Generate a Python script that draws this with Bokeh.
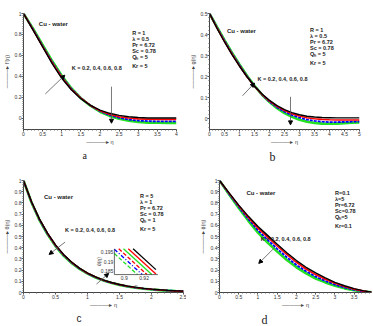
from bokeh.plotting import figure
from bokeh.layouts import row, column
from bokeh.models import Range1d, FixedTicker, Arrow, NormalHead, Label, Title
from bokeh.embed import file_html
from bokeh.resources import INLINE
from bokeh.core.properties import value

# ---------------------------------------------------------------- data
K_values = [0.2, 0.4, 0.6, 0.8]
curve_colors = ["black", "red", "blue", "#22e022"]

# (a) velocity f'(eta)
eta_a = [0, 0.25, 0.5, 0.75, 1.0, 1.25, 1.5, 1.75, 2.0, 2.25, 2.5, 2.75, 3.0, 3.25, 3.5, 3.75, 4.0]
fp_k02 = [1, 0.84, 0.68, 0.52, 0.38, 0.27, 0.185, 0.12, 0.075, 0.045, 0.025, 0.012, 0.005, 0.0, 0.0, 0.0, 0.0]
fp_k04 = [1, 0.845, 0.685, 0.53, 0.39, 0.275, 0.19, 0.12, 0.07, 0.035, 0.012, 0.0, -0.008, -0.012, -0.013, -0.013, -0.013]
fp_k06 = [1, 0.85, 0.69, 0.535, 0.395, 0.28, 0.19, 0.12, 0.065, 0.028, 0.002, -0.015, -0.025, -0.03, -0.032, -0.032, -0.032]
fp_k08 = [1, 0.855, 0.70, 0.545, 0.405, 0.285, 0.19, 0.118, 0.06, 0.02, -0.008, -0.027, -0.038, -0.044, -0.046, -0.047, -0.047]

# (b) velocity g(eta)
eta_b = [0, 0.25, 0.5, 0.75, 1.0, 1.25, 1.5, 1.75, 2.0, 2.25, 2.5, 2.75, 3.0, 3.25, 3.5, 3.75, 4.0, 4.25, 4.5, 4.75, 5.0]
g_k02 = [0.5, 0.43, 0.365, 0.305, 0.25, 0.2, 0.155, 0.118, 0.088, 0.063, 0.044, 0.03, 0.02, 0.013, 0.009, 0.007, 0.006, 0.005, 0.005, 0.005, 0.005]
g_k04 = [0.5, 0.432, 0.368, 0.308, 0.252, 0.2, 0.155, 0.116, 0.085, 0.06, 0.04, 0.025, 0.014, 0.006, 0.001, -0.002, -0.004, -0.005, -0.005, -0.005, -0.005]
g_k06 = [0.5, 0.434, 0.371, 0.311, 0.255, 0.202, 0.156, 0.115, 0.082, 0.055, 0.034, 0.018, 0.006, -0.003, -0.009, -0.013, -0.015, -0.015, -0.014, -0.013, -0.012]
g_k08 = [0.5, 0.436, 0.374, 0.314, 0.258, 0.205, 0.157, 0.115, 0.08, 0.051, 0.028, 0.01, -0.004, -0.013, -0.019, -0.022, -0.023, -0.022, -0.02, -0.018, -0.016]

# (c) temperature theta(eta)
eta_c = [0, 0.125, 0.25, 0.375, 0.5, 0.625, 0.75, 0.875, 1.0, 1.125, 1.25, 1.375, 1.5, 1.625, 1.75, 1.875, 2.0, 2.125, 2.25, 2.375, 2.5]
th_k02 = [1, 0.81, 0.655, 0.53, 0.425, 0.34, 0.272, 0.218, 0.174, 0.139, 0.111, 0.089, 0.071, 0.057, 0.046, 0.037, 0.030, 0.024, 0.019, 0.015, 0.012]
th_k04 = [1, 0.808, 0.652, 0.527, 0.422, 0.337, 0.27, 0.216, 0.172, 0.138, 0.11, 0.088, 0.07, 0.056, 0.045, 0.036, 0.029, 0.023, 0.018, 0.014, 0.011]
th_k06 = [1, 0.806, 0.649, 0.523, 0.418, 0.334, 0.267, 0.213, 0.17, 0.136, 0.108, 0.086, 0.069, 0.055, 0.044, 0.035, 0.028, 0.022, 0.018, 0.014, 0.011]
th_k08 = [1, 0.804, 0.646, 0.519, 0.414, 0.33, 0.264, 0.21, 0.168, 0.134, 0.107, 0.085, 0.068, 0.054, 0.043, 0.034, 0.027, 0.021, 0.017, 0.013, 0.01]

# (c, inset) close-up of theta near eta = 0.9
inset_eta = [0.89, 0.932]
inset_theta = [[0.2050, 0.1859], [0.2028, 0.1837], [0.2006, 0.1815],
               [0.1984, 0.1793], [0.1962, 0.1771], [0.1940, 0.1749]]
inset_colors = ["black", "red", "#22e022", "red", "blue", "#22e022"]
inset_dashes = ["solid", "solid", "solid", "4 2", "4 2 1 2", "4 2"]
inset_xticks = [0.9, 0.92]
inset_yticks = [0.185, 0.19, 0.195]

# (d) concentration phi(eta)
eta_d = [0, 0.25, 0.5, 0.75, 1.0, 1.25, 1.5, 1.75, 2.0, 2.25, 2.5, 2.75, 3.0, 3.25, 3.5, 3.75, 4.0]
ph_k02 = [1, 0.89, 0.78, 0.68, 0.59, 0.51, 0.43, 0.355, 0.285, 0.225, 0.175, 0.13, 0.09, 0.06, 0.035, 0.015, 0.0]
ph_k04 = [1, 0.885, 0.775, 0.67, 0.575, 0.495, 0.415, 0.34, 0.27, 0.21, 0.16, 0.118, 0.082, 0.053, 0.03, 0.012, 0.0]
ph_k06 = [1, 0.88, 0.765, 0.655, 0.555, 0.47, 0.39, 0.315, 0.245, 0.19, 0.142, 0.103, 0.07, 0.044, 0.024, 0.01, 0.0]
ph_k08 = [1, 0.875, 0.755, 0.64, 0.535, 0.445, 0.365, 0.29, 0.225, 0.17, 0.125, 0.09, 0.06, 0.037, 0.02, 0.008, 0.0]

params_a = ["R = 1", "\u03bb = 0.5", "Pr = 6.72", "Sc = 0.78", "Q\u2095 = 5", "Kr = 5"]
params_b = ["R = 1", "\u03bb = 0.5", "Pr = 6.72", "Sc = 0.78", "Q\u2095 = 5", "Kr = 5"]
params_c = ["R = 5", "\u03bb = 1", "Pr = 6.72", "Sc = 0.78", "Q\u2095 = 1", "Kr = 5"]
params_d = ["R=0.1", "\u03bb=5", "Pr=6.72", "Sc=0.78", "Q\u2095=5", "Kr=0.1"]

k_text = "K = 0.2, 0.4, 0.6, 0.8"
fluid_text = "Cu - water"

FONT = "Liberation Sans"
ARROW = "\u2500\u2500\u2500\u2500\u2500\u25b8 "


def panel(w, h, borders, xr, yr, xticks, yticks, ylabel, caption, cap_font, cap_size, cap_offset):
    left, right, top, bottom = borders
    p = figure(width=w, height=h, x_range=Range1d(*xr), y_range=Range1d(*yr),
               output_backend="svg", toolbar_location=None,
               min_border_left=left, min_border_right=right,
               min_border_top=top, min_border_bottom=bottom)
    p.outline_line_color = None
    p.grid.visible = False
    p.xaxis.ticker = FixedTicker(ticks=xticks, minor_ticks=[t / 10 for t in range(0, 60)])
    p.yaxis.ticker = FixedTicker(ticks=yticks, minor_ticks=[t / 50 for t in range(-10, 55)])
    for ax in (p.xaxis[0], p.yaxis[0]):
        ax.major_label_text_font = FONT
        ax.major_label_text_font_size = "5px"
        ax.major_label_text_color = "#333"
        ax.major_label_standoff = 0
        ax.major_tick_out = 2
        ax.major_tick_in = 0
        ax.minor_tick_out = 1
        ax.minor_tick_in = 0
        ax.axis_line_color = "#444"
        ax.major_tick_line_color = "#444"
        ax.minor_tick_line_color = "#666"
        ax.axis_label_text_font = FONT
        ax.axis_label_text_font_size = "5.5px"
        ax.axis_label_text_font_style = "normal"
        ax.axis_label_standoff = 0
    p.xaxis.axis_label = ARROW + "\u03b7"
    p.yaxis.axis_label = ARROW + ylabel
    p.yaxis.axis_label_standoff = 2
    # sub-figure caption, shifted from the frame's left edge
    p.add_layout(Title(text=caption, align="left", offset=cap_offset, standoff=0,
                       text_font=cap_font, text_font_size=cap_size, text_line_height=0.9,
                       text_font_style="normal", text_color="#222"), "below")
    return p


def curves(p, x, ys, widths=(1.4, 1.6, 1.8, 2.6), dashes=("solid", "solid", "3 1", "solid")):
    for i in [3, 2, 1, 0]:
        p.line(x, ys[i], line_color=curve_colors[i], line_width=widths[i], line_dash=dashes[i])


def texts(p, fluid_xy, params_xy, params, k_xy):
    p.add_layout(Label(x=fluid_xy[0], y=fluid_xy[1], text=fluid_text, text_font=FONT,
                       text_font_size="6px", text_font_style="bold", text_color="#222",
                       text_baseline="middle"))
    for i, s in enumerate(params):
        extra = 3 if i == len(params) - 1 else 0
        p.add_layout(Label(x=params_xy[0], y=params_xy[1], y_offset=-(6 * i + extra), text=s,
                           text_font=FONT, text_font_size="5.5px", text_font_style="bold",
                           text_color="#222", text_baseline="middle"))
    p.add_layout(Label(x=k_xy[0], y=k_xy[1], text=k_text, text_font=FONT,
                       text_font_size="5.5px", text_font_style="bold", text_color="#222",
                       text_baseline="middle"))


def arrow(p, x0, y0, x1, y1, color="#555"):
    p.add_layout(Arrow(end=NormalHead(size=4, fill_color="black", line_color="black"),
                       x_start=x0, y_start=y0, x_end=x1, y_end=y1,
                       line_color=color, line_width=0.8))


# ---------------------------------------------------------------- (a)
pa = panel(186, 163, (21, 10, 13, 30), (0, 4), (-0.11, 1.0),
           [0, 0.5, 1, 1.5, 2, 2.5, 3, 3.5, 4], [0, 0.2, 0.4, 0.6, 0.8, 1], "f\u2032(\u03b7)",
           "a", "Liberation Serif", "10px", 59)
curves(pa, eta_a, [fp_k02, fp_k04, fp_k06, fp_k08])
texts(pa, (0.4, 0.9), (2.84, 0.81), params_a, (1.26, 0.48))
arrow(pa, 0.57, 0.23, 1.08, 0.41)
arrow(pa, 2.3, 0.3, 2.3, -0.05)

# ---------------------------------------------------------------- (b)
pb = panel(187, 163, (18, 14, 13, 30), (0, 5), (-0.05, 0.5),
           [0, 0.5, 1, 1.5, 2, 2.5, 3, 3.5, 4, 4.5, 5], [0, 0.1, 0.2, 0.3, 0.4, 0.5], "g(\u03b7)",
           "b", "Liberation Serif", "12px", 60)
curves(pb, eta_b, [g_k02, g_k04, g_k06, g_k08])
texts(pb, (0.58, 0.417), (3.35, 0.42), params_b, (1.6, 0.19))
arrow(pb, 1.1, 0.11, 1.5, 0.17)
arrow(pb, 2.7, 0.105, 2.7, -0.028)

# ---------------------------------------------------------------- (c)
pc = panel(186, 163, (21, 3, 17, 26), (0, 2.5), (0, 1),
           [0, 0.5, 1, 1.5, 2, 2.5], [t / 10 for t in range(11)], "\u03b8(\u03b7)",
           "c", "Liberation Sans", "10px", 53)
curves(pc, eta_c, [th_k02, th_k04, th_k06, th_k08])
texts(pc, (0.32, 0.85), (1.82, 0.86), params_c, (0.65, 0.56))
arrow(pc, 0.65, 0.45, 0.4, 0.34)
arrow(pc, 1.14, 0.075, 1.33, 0.17)

# inset: its own ranges, laid over a box of the main frame
box_x = (1.42, 2.10)
box_y = (0.16, 0.39)
in_x = (0.89, 0.934)
in_y = (0.1834, 0.1964)
sx = (in_x[1] - in_x[0]) / (box_x[1] - box_x[0])
sy = (in_y[1] - in_y[0]) / (box_y[1] - box_y[0])
pc.extra_x_ranges = {"ix": Range1d(in_x[0] - box_x[0] * sx, in_x[0] + (2.5 - box_x[0]) * sx)}
pc.extra_y_ranges = {"iy": Range1d(in_y[0] - box_y[0] * sy, in_y[0] + (1.0 - box_y[0]) * sy)}


def clip(x0, y0, x1, y1, xmin, xmax, ymin, ymax):
    t0, t1 = 0.0, 1.0
    dx, dy = x1 - x0, y1 - y0
    for pp, qq in ((-dx, x0 - xmin), (dx, xmax - x0), (-dy, y0 - ymin), (dy, ymax - y0)):
        if pp == 0:
            if qq < 0:
                return None
            continue
        r = qq / pp
        if pp < 0:
            t0 = max(t0, r)
        else:
            t1 = min(t1, r)
    if t0 > t1:
        return None
    return [x0 + t0 * dx, x0 + t1 * dx], [y0 + t0 * dy, y0 + t1 * dy]


kw = dict(x_range_name="ix", y_range_name="iy")
pc.quad(left=in_x[0], right=in_x[1], bottom=in_y[0], top=in_y[1],
        fill_color="white", line_color=None, **kw)
for vals, col, dash in zip(inset_theta, inset_colors, inset_dashes):
    seg = clip(inset_eta[0], vals[0], inset_eta[1], vals[1], in_x[0], in_x[1], in_y[0], in_y[1])
    if seg:
        pc.line(seg[0], seg[1], line_color=col, line_width=1.3, line_dash=dash, **kw)
pc.line([in_x[0], in_x[0], in_x[1]], [in_y[1], in_y[0], in_y[0]],
        line_color="#444", line_width=0.8, **kw)
pc.text(x=[in_x[0]] * len(inset_yticks), y=inset_yticks, text=[str(t) for t in inset_yticks],
        text_font=value(FONT), text_font_size="5px", text_align="right", text_baseline="middle",
        x_offset=-1, text_color="#333", **kw)
pc.text(x=inset_xticks, y=[in_y[0]] * len(inset_xticks), text=[str(t) for t in inset_xticks],
        text_font=value(FONT), text_font_size="5px", text_align="center", text_baseline="top",
        y_offset=1, text_color="#333", **kw)
pc.add_layout(Label(x=0.912, y=in_y[0], y_offset=-8, text="\u03b7", text_font=FONT,
                    text_font_size="5px", text_align="center", text_baseline="top",
                    x_range_name="ix", y_range_name="iy"))
pc.add_layout(Label(x=in_x[0], y=0.19, x_offset=-15, text="\u03b8(\u03b7)", text_font=FONT,
                    text_font_size="5px", text_align="center", text_baseline="middle",
                    angle=1.5708, x_range_name="ix", y_range_name="iy"))

# ---------------------------------------------------------------- (d)
pd_ = panel(187, 163, (33, 2, 16, 28), (0, 3.95), (0, 1),
            [0, 0.5, 1, 1.5, 2, 2.5, 3, 3.5], [t / 10 for t in range(11)], "\u03d5(\u03b7)",
            "d", "Liberation Serif", "12px", 42)
curves(pd_, eta_d, [ph_k02, ph_k04, ph_k06, ph_k08])
texts(pd_, (0.7, 0.89), (3.0, 0.89), params_d, (1.07, 0.48))
arrow(pd_, 1.43, 0.40, 1.02, 0.26)

layout = column(row(pa, pb), row(pc, pd_))
open("out.html", "w").write(file_html(layout, INLINE))
